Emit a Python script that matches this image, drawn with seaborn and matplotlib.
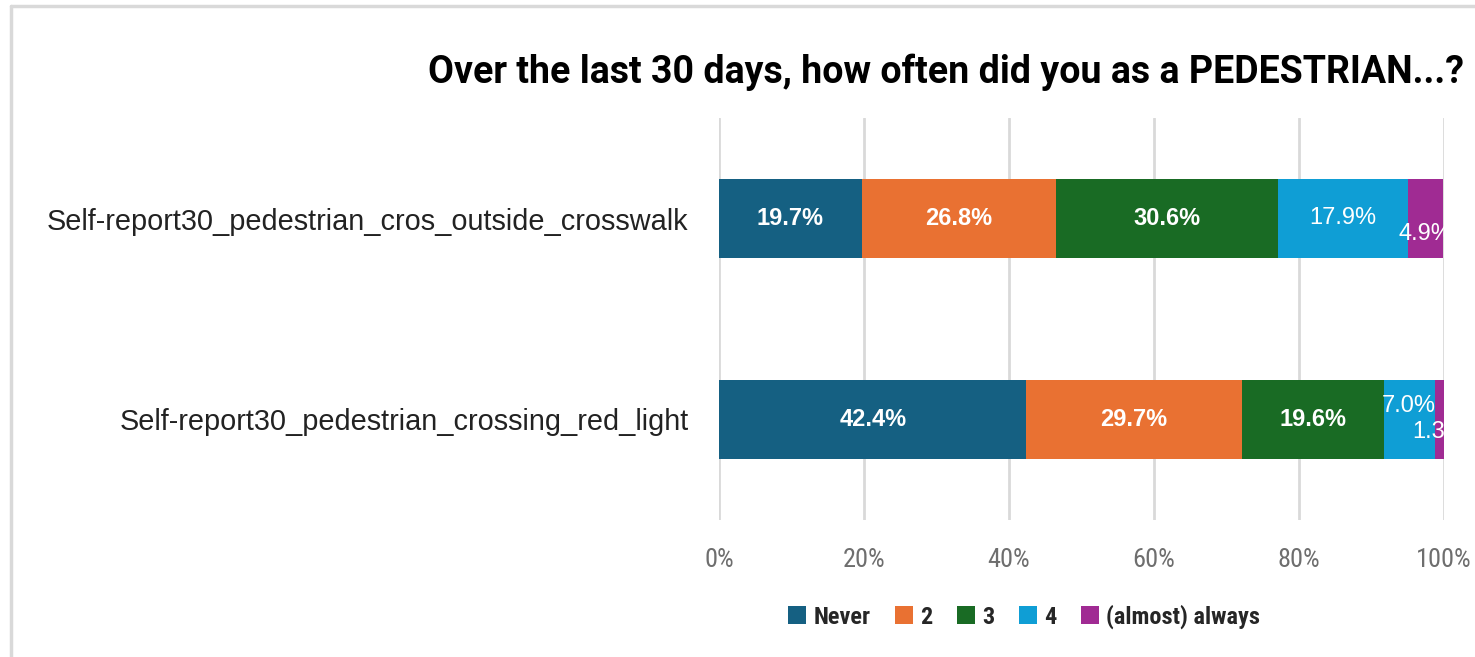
import matplotlib
matplotlib.use("Agg")
import matplotlib.pyplot as plt
import seaborn as sns
import pandas as pd
import numpy as np
from matplotlib.patches import Patch
from matplotlib.lines import Line2D

# ---- data ----
categories = ["Self-report30_pedestrian_cros_outside_crosswalk",
              "Self-report30_pedestrian_crossing_red_light"]
series_names = ["Never", "2", "3", "4", "(almost) always"]
never = [19.7, 42.4]
two = [26.8, 29.7]
three = [30.6, 19.6]
four = [17.9, 7.0]
always = [4.9, 1.3]
tick_values = [0, 20, 40, 60, 80, 100]
tick_labels = ["0%", "20%", "40%", "60%", "80%", "100%"]
title = "Over the last 30 days, how often did you as a PEDESTRIAN...?"

# ---- style ----
colors = ["#156082", "#E97132", "#196B24", "#0F9ED5", "#A02B93"]
label_bold = [True, True, True, False, False]
# label vertical nudges (pixels) for crowded small segments: (row, series) -> dy
label_nudge = {(0, 4): -16, (1, 3): 14, (1, 4): -12}

sns.set_theme(style="white")
plt.rcParams['font.family'] = ['Liberation Sans', 'DejaVu Sans']
narrow = ['Liberation Sans Narrow', 'Roboto Condensed', 'Liberation Sans']

values = [never, two, three, four, always]
rows = []
for s, vals in zip(series_names, values):
    for c, v in zip(categories, vals):
        rows.append({"category": c, "series": s, "value": v})
df = pd.DataFrame(rows)
df["cum"] = df.groupby("category")["value"].cumsum()
df["start"] = df["cum"] - df["value"]

fig = plt.figure(figsize=(14.75, 6.57), dpi=100)
ax = fig.add_axes([719/1475, 1-520/657, (1444-719)/1475, 402/657])

# draw stacked bars: largest cumulative first
for s, col in reversed(list(zip(series_names, colors))):
    sub = df[df["series"] == s]
    sns.barplot(data=sub, x="cum", y="category", order=categories,
                color=col, saturation=1, width=0.396, ax=ax,
                orient="h", linewidth=0, zorder=3)

ax.set_xlim(0, 100)
ax.set_ylim(1.5, -0.5)
ax.set_xticks(tick_values)
ax.set_xticklabels(tick_labels, family=narrow, fontsize=19, color="#6e6e6e")
ax.tick_params(axis="x", length=0, pad=20)
ax.tick_params(axis="y", length=0, pad=22)
ax.set_yticks(range(len(categories)))
ax.set_yticklabels(categories, fontsize=20.8, color="#222222")
ax.set_xlabel("")
ax.set_ylabel("")
for sp in ax.spines.values():
    sp.set_visible(False)
ax.grid(False)
for t in tick_values:
    ax.axvline(t, color="#d9d9d9", lw=2, zorder=1)

# data labels
for si, (s, bold) in enumerate(zip(series_names, label_bold)):
    sub = df[df["series"] == s].reset_index(drop=True)
    for ri, r in sub.iterrows():
        xc = r["start"] + r["value"] / 2
        dy = label_nudge.get((ri, si), 0)
        txt = f"{r['value']:.1f}%"
        ax.annotate(txt, (xc, ri), xytext=(0, dy * 0.72), textcoords="offset points",
                    ha="center", va="center", color="white",
                    fontsize=17, fontweight="bold" if bold else "normal",
                    zorder=5, annotation_clip=False, clip_on=True)

# title
fig.text(428/1475, 1-72/657, title, ha="left", va="center",
         fontsize=27, fontweight="bold", color="black",
         family=['Roboto', 'Liberation Sans'])

# legend
handles = [Patch(facecolor=c, edgecolor="none") for c in colors]
leg = fig.legend(handles, series_names, loc="center",
                 bbox_to_anchor=(1024/1475, 1-617/657), ncol=5, frameon=False,
                 handlelength=0.75, handleheight=0.75, handletextpad=0.3,
                 columnspacing=1.0,
                 prop={'family': narrow, 'weight': 'bold', 'size': 17.5})

# chart border (left and top visible; chart is cropped on right/bottom)
fig.add_artist(Line2D([11/1475, 11/1475], [0, 1-6/657], transform=fig.transFigure,
                      color="#d9d9d9", lw=2.5))
fig.add_artist(Line2D([11/1475, 1], [1-6/657, 1-6/657], transform=fig.transFigure,
                      color="#d9d9d9", lw=2.5))

fig.savefig("out.png", dpi=100)
